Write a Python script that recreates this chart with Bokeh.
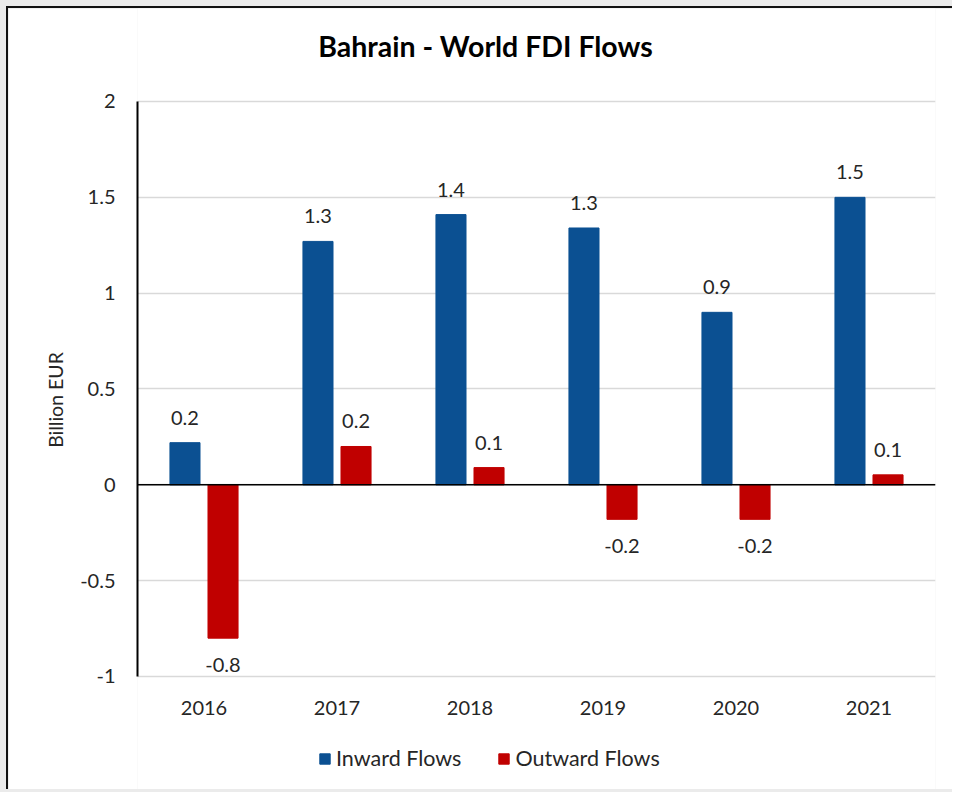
from bokeh.plotting import figure
from bokeh.models import (FactorRange, Range1d, Span, Label, Legend, LegendItem,
                          ColumnDataSource, FixedTicker)
from bokeh.core.properties import value
from bokeh.transform import dodge
from bokeh.layouts import column
from bokeh.embed import file_html
from bokeh.resources import INLINE

years = ["2016", "2017", "2018", "2019", "2020", "2021"]
inward = [0.22, 1.27, 1.41, 1.34, 0.90, 1.50]
outward = [-0.80, 0.20, 0.09, -0.18, -0.18, 0.052]
y_ticks = [-1, -0.5, 0, 0.5, 1, 1.5, 2]
y_tick_labels = ["-1", "-0.5", "0", "0.5", "1", "1.5", "2"]

BLUE = "#0b5092"
RED = "#c00000"
FONT = "Lato"
TXT = "#262626"
FS = "20px"

Y_MIN, Y_MAX = y_ticks[0], y_ticks[-1]


def offsets(vals):
    return [-25 if v >= 0 else 27 for v in vals]


src = ColumnDataSource(dict(
    year=years, inward=inward, outward=outward,
    in_lbl=[f"{v:.1f}" for v in inward], out_lbl=[f"{v:.1f}" for v in outward],
    in_off=offsets(inward), out_off=offsets(outward),
))
year_src = ColumnDataSource(dict(year=years, base=[Y_MIN] * len(years)))

# frame spans the whole canvas height; the value axis occupies -1..2
p = figure(x_range=FactorRange(*years), y_range=Range1d(Y_MIN - 0.6, Y_MAX + 0.4852),
           width=946, height=783, output_backend="svg", toolbar_location=None,
           x_axis_location=None,
           min_border_left=129, min_border_right=19, min_border_top=0,
           min_border_bottom=0)
p.outline_line_color = None
p.background_fill_color = "white"
p.border_fill_color = "white"

r_in = p.vbar(x=dodge("year", -0.143, range=p.x_range), top="inward", bottom=0,
              width=0.226, source=src, color=BLUE)
r_out = p.vbar(x=dodge("year", 0.143, range=p.x_range), top="outward", bottom=0,
               width=0.226, source=src, color=RED)

p.text(x=dodge("year", -0.143, range=p.x_range), y="inward", text="in_lbl",
       y_offset="in_off", source=src, text_align="center", text_baseline="middle",
       text_font_size=FS, text_color=TXT, text_font=value(FONT))
p.text(x=dodge("year", 0.143, range=p.x_range), y="outward", text="out_lbl",
       y_offset="out_off", source=src, text_align="center", text_baseline="middle",
       text_font_size=FS, text_color=TXT, text_font=value(FONT))

# category labels under the bottom gridline
p.text(x="year", y="base", text="year", y_offset=32, source=year_src,
       text_align="center", text_baseline="middle", text_font_size=FS,
       text_color=TXT, text_font=value(FONT))

p.add_layout(Span(location=0, dimension="width", line_color="black", line_width=1.5))

# grid
p.xgrid.grid_line_color = None
p.ygrid.ticker = FixedTicker(ticks=y_ticks)
p.ygrid.grid_line_color = "#d9d9d9"
p.ygrid.grid_line_width = 1.5

# y axis
ya = p.yaxis[0]
ya.ticker = FixedTicker(ticks=y_ticks)
ya.bounds = (Y_MIN, Y_MAX)
ya.major_label_overrides = {t: s for t, s in zip(y_ticks, y_tick_labels)}
ya.axis_line_color = "black"
ya.axis_line_width = 2
ya.major_tick_line_color = None
ya.minor_tick_line_color = None
ya.major_tick_out = 0
ya.major_tick_in = 0
ya.major_label_standoff = 22
ya.major_label_text_font = FONT
ya.major_label_text_font_size = FS
ya.major_label_text_color = TXT
ya.axis_label = "Billion EUR"
ya.axis_label_text_font = FONT
ya.axis_label_text_font_style = "normal"
ya.axis_label_text_font_size = "19.5px"
ya.axis_label_text_color = TXT
ya.axis_label_standoff = 10

# title
p.add_layout(Label(x=2.617, y=2.292, text="Bahrain - World FDI Flows",
                   text_align="center", text_baseline="middle",
                   text_font=FONT, text_font_size="28.5px", text_font_style="bold",
                   text_color="black"))

legend = Legend(items=[LegendItem(label="Inward Flows", renderers=[r_in]),
                       LegendItem(label="Outward Flows", renderers=[r_out])],
                orientation="horizontal", location=(181, 20),
                glyph_width=13, glyph_height=13, label_standoff=5, spacing=36,
                padding=0, margin=0, border_line_color=None,
                background_fill_alpha=0,
                label_text_font=FONT, label_text_font_size="21.5px",
                label_text_color=TXT)
p.add_layout(legend, "center")

layout = column(p, styles={"background-color": "#ebebeb", "padding": "6px 0 3px 6px"})
p.styles = {"border-left": "2px solid #111", "border-top": "2px solid #111"}

open("out.html", "w").write(file_html(layout, INLINE))
